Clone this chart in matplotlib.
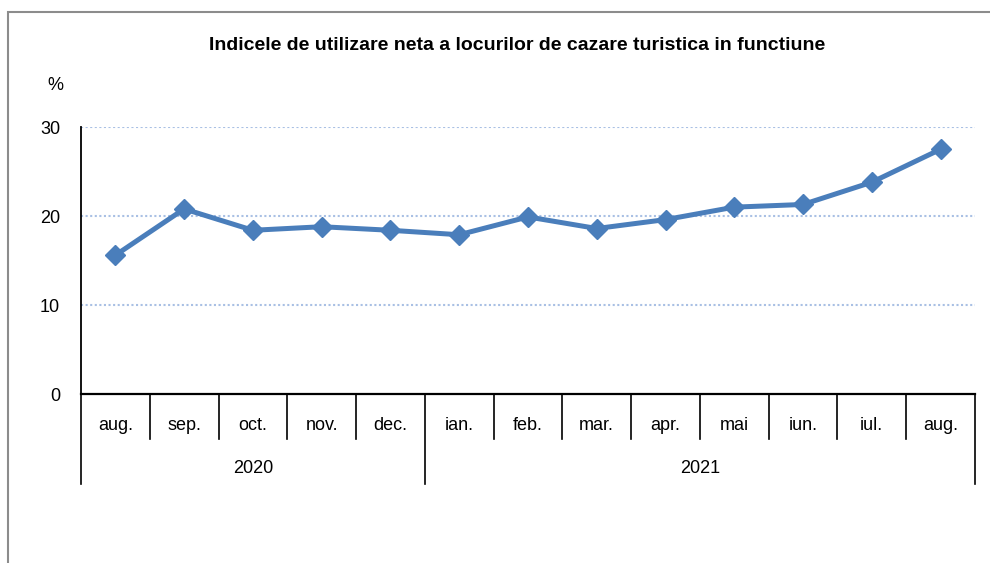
import matplotlib
matplotlib.use("Agg")
import matplotlib.pyplot as plt
import matplotlib.transforms as mtransforms
from matplotlib.patches import Rectangle

plt.rcParams['font.family'] = ['Liberation Sans', 'DejaVu Sans']

months = ["aug.", "sep.", "oct.", "nov.", "dec.", "ian.", "feb.", "mar.",
          "apr.", "mai", "iun.", "iul.", "aug."]
values = [15.6, 20.8, 18.4, 18.8, 18.4, 17.9, 19.9, 18.6, 19.6, 21.0, 21.3, 23.8, 27.5]
years = ["2020", "2021"]
year_spans = [(0, 4), (5, 12)]  # first and last month index of each year

title = "Indicele de utilizare neta a locurilor de cazare turistica in functiune"

fig = plt.figure(figsize=(9.9, 5.63), dpi=100)
ax = fig.add_axes([0.0818, 0.300, 0.903, 0.4744])

# chart frame (cropped on the right and bottom like the screenshot)
fig.patches.append(Rectangle((8 / 990, -0.05), 1.05, 1 - 12 / 563 + 0.05,
                             transform=fig.transFigure, fill=False,
                             edgecolor="#8c8c8c", linewidth=1.5))

x = list(range(len(months)))
ax.plot(x, values, color="#4a7ebb", linewidth=3.6, marker="D",
        markersize=10, zorder=3)

ax.set_xlim(-0.5, len(months) - 0.5)
ax.set_ylim(0, 30)
ax.set_yticks([0, 10, 20, 30])
ax.tick_params(axis="y", length=0, pad=15, labelsize=13)
ax.set_xticks([])

for y in [10, 20, 30]:
    ax.axhline(y, color="#a9c0e4", linestyle=(0, (1, 1.2)), linewidth=1.5, zorder=1)

for s in ["top", "right"]:
    ax.spines[s].set_visible(False)
ax.spines["left"].set_linewidth(1.3)
ax.spines["bottom"].set_linewidth(1.6)

# multi-level category axis
trans = mtransforms.blended_transform_factory(ax.transData, ax.transAxes)
month_depth = -0.168
year_depth = -0.337
year_edges = [-0.5] + [b + 0.5 for _, b in year_spans]
for i in range(len(months) + 1):
    xe = i - 0.5
    depth = year_depth if xe in year_edges else month_depth
    ax.plot([xe, xe], [0, depth], color="black", linewidth=1.2,
            transform=trans, clip_on=False)
for i, m in enumerate(months):
    ax.text(i, -0.116, m, transform=trans, ha="center", va="center", fontsize=13)
for yr, (a, b) in zip(years, year_spans):
    ax.text((a + b) / 2, -0.277, yr, transform=trans, ha="center", va="center",
            fontsize=13)

fig.text(0.522, 1 - 46 / 563, title, ha="center", va="center",
         fontsize=14, fontweight="bold")
fig.text(55 / 990, 1 - 85 / 563, "%", ha="center", va="center", fontsize=13)

fig.savefig("out.png", dpi=100)
